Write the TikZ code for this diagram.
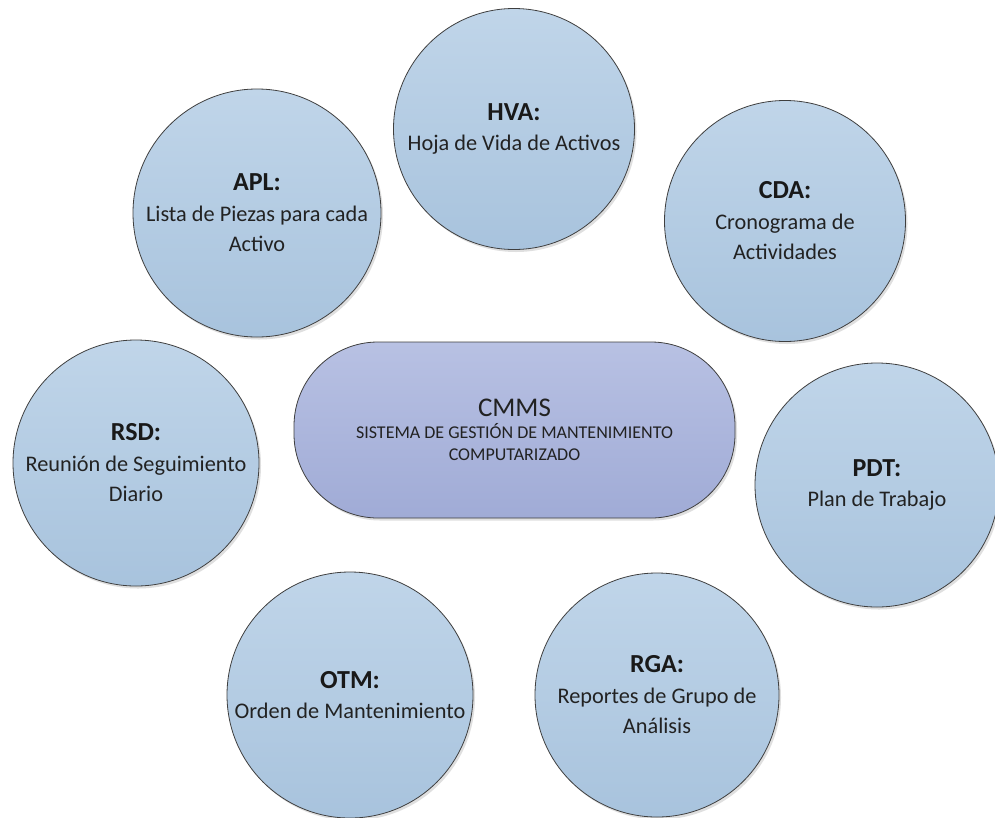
\documentclass[tikz,border=0pt]{standalone}
\usepackage{fontspec}
\setmainfont{Carlito}
\usetikzlibrary{shadows,shapes.misc}
\definecolor{ctop}{HTML}{C0D5E9}
\definecolor{cbot}{HTML}{A8C3DD}
\definecolor{mtop}{HTML}{B8C1E3}
\definecolor{mbot}{HTML}{A0ABD6}
\definecolor{edge}{HTML}{3F3F3F}
\definecolor{txt}{HTML}{222222}
\begin{document}
\begin{tikzpicture}[x=1pt,y=-1pt,
  circ/.style={circle, draw=edge, line width=0.8pt, top color=ctop, bottom color=cbot,
    inner sep=0pt, align=center, text=txt,
    drop shadow={opacity=0.25, shadow xshift=2pt, shadow yshift=-2.5pt},
    font=\fontsize{22.3}{30.5}\selectfont},
  hub/.style={rectangle, rounded corners=84pt, draw=edge, line width=0.8pt, top color=mtop, bottom color=mbot,
    minimum width=441pt, minimum height=176pt, inner sep=0pt, align=center, text=txt,
    drop shadow={opacity=0.25, shadow xshift=2pt, shadow yshift=-2.5pt},
    font=\fontsize{18}{22}\selectfont}]
\useasboundingbox (0,0) rectangle (995,817);
\fill[white] (0,0) rectangle (995,817);
\newcommand{\ttlfont}{\fontsize{26}{31}\selectfont\bfseries\color{black!90}}
\node[circ, minimum size=241pt] (hva) at (514,129) {{\ttlfont HVA:}\\Hoja de Vida de Activos};
\node[circ, minimum size=248pt] (apl) at (257,213) {{\ttlfont APL:}\\Lista de Piezas para cada\\Activo};
\node[circ, minimum size=241pt] (cda) at (785,221) {{\ttlfont CDA:}\\Cronograma de\\Actividades};
\node[circ, minimum size=246pt] (rsd) at (136,463) {{\ttlfont RSD:}\\Reunión de Seguimiento\\Diario};
\node[circ, minimum size=244pt] (pdt) at (877,485) {{\ttlfont PDT:}\\Plan de Trabajo};
\node[circ, minimum size=246pt] (otm) at (350,695) {{\ttlfont OTM:}\\Orden de Mantenimiento};
\node[circ, minimum size=244pt] (rga) at (657,695) {{\ttlfont RGA:}\\Reportes de Grupo de\\Análisis};
\node[hub] (cmms) at (514.5,430) {{\fontsize{27}{31}\selectfont CMMS}\\SISTEMA DE GESTIÓN DE MANTENIMIENTO\\COMPUTARIZADO};
\end{tikzpicture}
\end{document}
